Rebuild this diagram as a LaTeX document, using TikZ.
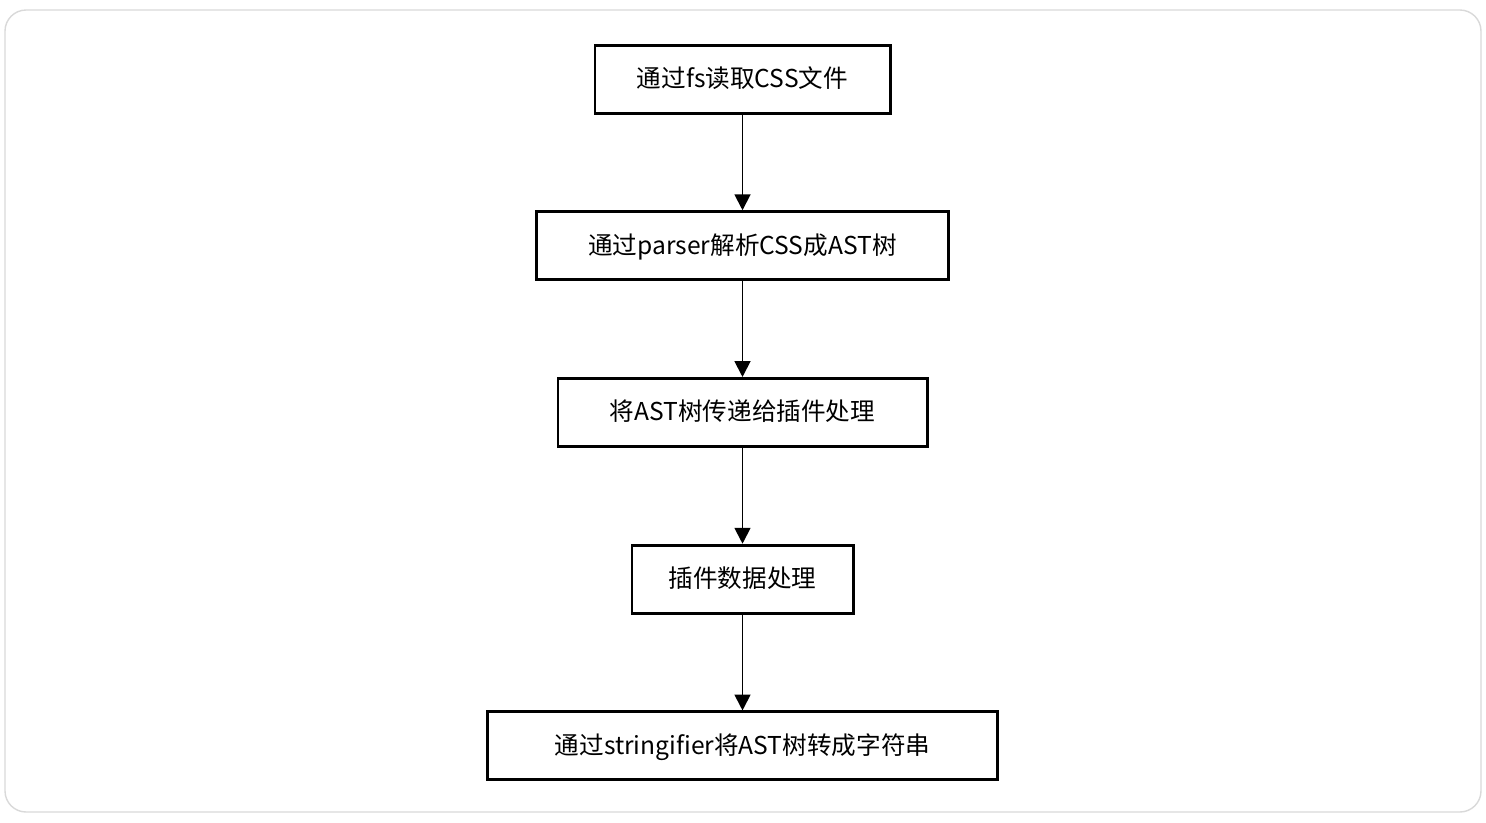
\documentclass[tikz,border=0pt]{standalone}
\usepackage{fontspec}
\newfontfamily\cjk{Noto Sans CJK SC}
\usetikzlibrary{arrows.meta,positioning}

\begin{document}
\begin{tikzpicture}[>={Triangle[length=9pt,width=9pt]}, thick,
	   every node/.style={font=\cjk\fontsize{14pt}{17pt}\selectfont},
	   stepbox/.style={draw, line width=1.7pt, minimum height=1.36cm,
	                   inner sep=0pt, text height=1.15em, text depth=.2em},
	   link/.style={->, line width=1.1pt}]

	%% Frame round the whole flow
	\useasboundingbox (0,0) rectangle (29.72,-16.44);
	\draw[black!15, line width=0.8pt, rounded corners=12pt]
		(0.1,-0.2) rectangle (29.62,-16.24);

	%% Steps, top to bottom
	\node[stepbox, minimum width=5.9cm] (read) at (14.85,-1.58) {通过fs读取CSS文件};
	\node[stepbox, minimum width=8.24cm, below=1.915cm of read] (parse) {通过parser解析CSS成AST树};
	\node[stepbox, minimum width=7.38cm, below=1.915cm of parse] (pass) {将AST树传递给插件处理};
	\node[stepbox, minimum width=4.42cm, below=1.915cm of pass] (plugin) {插件数据处理};
	\node[stepbox, minimum width=10.2cm, below=1.915cm of plugin] (string) {通过stringifier将AST树转成字符串};

	%% Connectors
	\foreach \a/\b in {read/parse, parse/pass, pass/plugin, plugin/string}
		\draw[link] (\a) -- (\b);
\end{tikzpicture}
\end{document}
